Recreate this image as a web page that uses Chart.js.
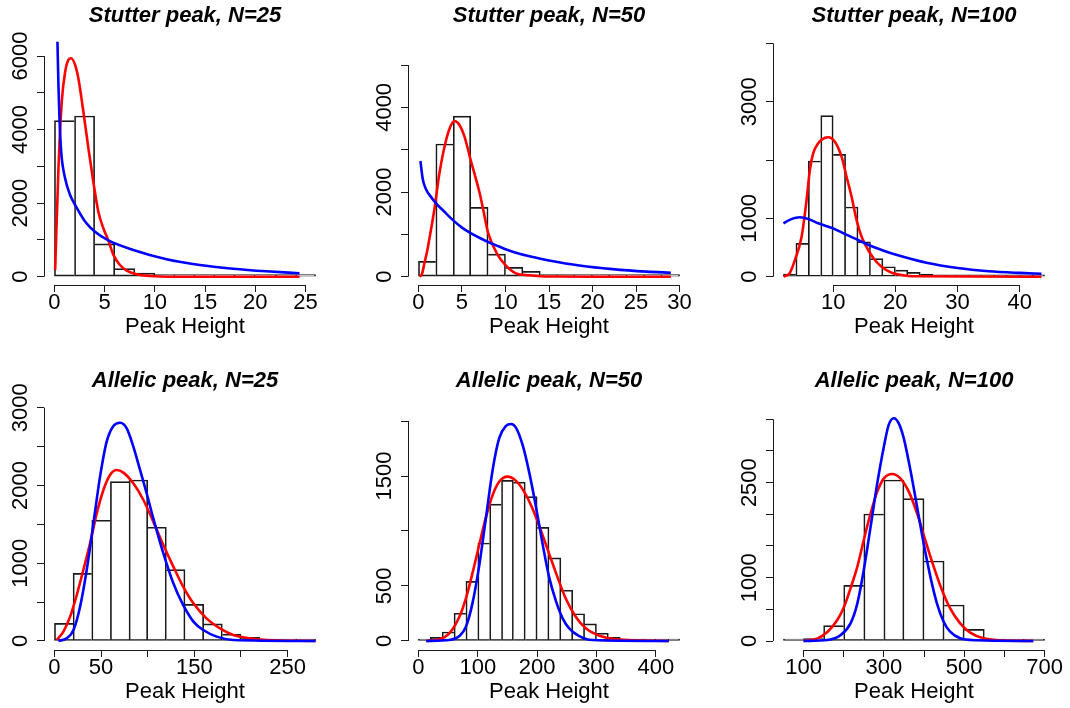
<!DOCTYPE html>
<html>
<head>
<meta charset="utf-8">
<script src="https://cdn.jsdelivr.net/npm/chart.js"></script>
<style>
  html, body { margin: 0; padding: 0; background: #fff; overflow: hidden; }
  #page { position: relative; width: 1070px; height: 708px; }
  canvas { position: absolute; }
</style>
</head>
<body>
<div id="page"></div>
<script>
// ---- Stutter peak, N=25 ----
const breaks1 = [0, 2, 4, 6, 8, 10, 12, 14, 16, 18, 20, 22, 24, 26];
const counts1 = [4243, 4370, 890, 218, 100, 54, 18, 8, 4, 2, 1, 1, 1];
const red1X = [0.07, 0.4, 0.73, 1.07, 1.39, 1.66, 2.06, 2.38, 2.88, 3.38, 3.87, 4.37, 4.87, 5.36, 5.86, 6.52, 7.19, 8.18, 9.5, 12, 24.4];
const red1Y = [182, 2947, 4758, 5574, 5892, 5938, 5756, 5394, 4486, 3491, 2583, 1767, 1316, 990, 600, 318, 163, 65, 20, 0, 0];
const blue1X = [0.3, 0.4, 0.5, 0.67, 1.06, 1.56, 2.06, 3.05, 4.04, 5.37, 7.85, 11.16, 14.47, 17.8, 21.1, 24.4];
const blue1Y = [6390, 5200, 4307, 3399, 2675, 2221, 1950, 1500, 1220, 985, 726, 473, 318, 218, 147, 92];
const xTicks1 = [0, 5, 10, 15, 20, 25];
const xLabels1 = [0, 5, 10, 15, 20, 25];
const yTicks1 = [0, 1000, 2000, 3000, 4000, 5000, 6000];
const yLabels1 = [0, 2000, 4000, 6000];

// ---- Stutter peak, N=50 ----
const breaks2 = [0, 2, 4, 6, 8, 10, 12, 14, 16, 18, 20, 22, 24, 26, 28, 30];
const counts2 = [362, 3134, 3795, 1638, 535, 220, 126, 47, 39, 24, 12, 5, 3, 2, 1];
const red2X = [0.11, 0.4, 0.7, 1.0, 1.26, 1.6, 1.84, 2.41, 3.18, 3.75, 4.14, 4.71, 5.29, 6, 7, 7.39, 8, 9.05, 10, 11.2, 12.7, 14, 16, 20, 29];
const red2Y = [0, 60, 330, 600, 900, 1300, 1600, 2442, 3229, 3584, 3678, 3584, 3307, 2757, 2000, 1638, 1040, 535, 276, 80, 33, 12, 4, 0, 0];
const blue2X = [0.23, 0.5, 0.88, 1.46, 2, 3, 4, 5, 6, 7, 8, 9, 10, 11, 13, 15, 18.5, 22.3, 26.2, 29];
const blue2Y = [2733, 2300, 2060, 1880, 1740, 1530, 1330, 1160, 1030, 920, 820, 735, 650, 580, 470, 385, 265, 178, 120, 95];
const xTicks2 = [0, 5, 10, 15, 20, 25, 30];
const xLabels2 = [0, 5, 10, 15, 20, 25, 30];
const yTicks2 = [0, 1000, 2000, 3000, 4000, 5000];
const yLabels2 = [0, 2000, 4000];

// ---- Stutter peak, N=100 ----
const breaks3 = [2, 4, 6, 8, 10, 12, 14, 16, 18, 20, 22, 24, 26, 28, 30, 32, 34, 36, 38, 40, 42, 44];
const counts3 = [46, 572, 1983, 2760, 2098, 1195, 600, 309, 171, 114, 74, 46, 23, 12, 8, 5, 3, 2, 1, 1, 1];
const red3X = [2, 3, 3.84, 4.92, 5.72, 6.25, 6.78, 7.59, 8.67, 9.2, 10.27, 11.35, 12.15, 12.96, 13.76, 14.57, 15.63, 16.7, 17.78, 19.4, 21, 23, 43.5];
const red3Y = [0, 60, 286, 686, 1315, 1829, 2115, 2287, 2383, 2390, 2315, 2057, 1714, 1372, 972, 686, 458, 286, 171, 69, 29, 8, 0];
const blue3X = [2, 3, 4, 4.65, 6, 7.59, 10, 12, 14, 16, 18, 20, 25, 30, 35, 40, 43.5];
const blue3Y = [914, 975, 1010, 1018, 990, 915, 829, 725, 629, 530, 450, 380, 240, 150, 95, 65, 50];
const xTicks3 = [10, 20, 30, 40];
const xLabels3 = [10, 20, 30, 40];
const yTicks3 = [0, 1000, 2000, 3000, 4000];
const yLabels3 = [0, 1000, 3000];

// ---- Allelic peak, N=25 ----
const breaks4 = [0, 20, 40, 60, 80, 100, 120, 140, 160, 180, 200, 220, 240, 260, 280];
const counts4 = [227, 870, 1552, 2049, 2070, 1462, 917, 471, 219, 86, 47, 21, 8, 3];
const red4X = [2.5, 9.6, 16.8, 23.9, 31, 38.2, 45.4, 52.5, 59.6, 66.8, 73.9, 84.6, 95.4, 106, 116.8, 127.5, 138, 149, 163, 177.5, 191.8, 209.6, 227.5, 280];
const red4Y = [13, 120, 313, 591, 913, 1256, 1642, 1942, 2135, 2199, 2165, 2027, 1813, 1534, 1234, 956, 699, 484, 291, 163, 77, 34, 13, 0];
const blue4X = [4.3, 13.2, 20.4, 27.5, 34.6, 41.8, 48.9, 56, 63.2, 70.4, 77.5, 84.6, 91.8, 98.9, 106, 116.8, 127.5, 138, 149, 159.6, 174, 191.8, 280];
const blue4Y = [0, 34, 141, 441, 913, 1513, 2113, 2563, 2765, 2807, 2735, 2499, 2199, 1899, 1577, 1127, 742, 463, 249, 141, 56, 13, 0];
const xTicks4 = [0, 50, 100, 150, 200, 250];
const xLabels4 = [0, 50, 150, 250];
const yTicks4 = [0, 500, 1000, 1500, 2000, 2500, 3000];
const yLabels4 = [0, 1000, 2000, 3000];

// ---- Allelic peak, N=50 ----
const breaks5 = [0, 20, 40, 60, 80, 100, 120, 140, 160, 180, 200, 220, 240, 260, 280, 300, 320, 340, 360, 380, 400, 420, 440];
const counts5 = [2, 33, 82, 252, 542, 891, 1245, 1461, 1445, 1312, 1033, 755, 461, 248, 155, 70, 33, 15, 5, 2, 1, 1];
const red5X = [13, 35, 52, 69, 80, 91, 103, 114, 125, 136, 150, 164, 178, 192, 206, 220, 234, 248, 265, 282, 305, 333, 422];
const red5Y = [0, 15, 70, 221, 388, 615, 888, 1130, 1327, 1448, 1494, 1458, 1358, 1206, 1009, 797, 585, 388, 221, 115, 48, 15, 0];
const blue5X = [13, 52, 69, 80, 91, 103, 114, 125, 136, 147.5, 156, 164, 175.5, 187, 198, 209, 220, 232, 243, 254, 271, 293, 422];
const blue5Y = [0, 9, 45, 130, 342, 706, 1130, 1555, 1842, 1955, 1973, 1942, 1782, 1524, 1221, 888, 585, 358, 206, 115, 45, 9, 0];
const xTicks5 = [0, 100, 200, 300, 400];
const xLabels5 = [0, 100, 200, 300, 400];
const yTicks5 = [0, 500, 1000, 1500, 2000];
const yLabels5 = [0, 500, 1500];

// ---- Allelic peak, N=100 ----
const breaks6 = [50, 100, 150, 200, 250, 300, 350, 400, 450, 500, 550, 600, 650, 700];
const counts6 = [2, 37, 242, 879, 2005, 2542, 2247, 1263, 568, 184, 26, 3, 1];
const red6X = [100, 135, 160, 184, 201, 217, 234, 250, 267, 283.5, 300, 320.7, 341, 362, 382.6, 403, 424, 444.6, 465, 490, 515, 548, 589, 672];
const red6Y = [0, 42, 147, 332, 542, 832, 1174, 1595, 2016, 2358, 2568, 2637, 2568, 2358, 2016, 1595, 1174, 805, 516, 279, 132, 42, 11, 0];
const blue6X = [100, 160, 192.6, 217, 234, 250, 267, 283.5, 300, 312, 324.8, 337, 349.6, 366, 382.6, 399, 415.7, 432, 448.8, 465, 490, 531, 672];
const blue6Y = [0, 16, 95, 279, 595, 1121, 1805, 2489, 3068, 3411, 3516, 3437, 3200, 2700, 2121, 1542, 1016, 595, 305, 147, 42, 11, 0];
const xTicks6 = [100, 200, 300, 400, 500, 600, 700];
const xLabels6 = [100, 300, 500, 700];
const yTicks6 = [0, 500, 1000, 1500, 2000, 2500, 3000, 3500];
const yLabels6 = [0, 1000, 2500];

const titles = ['Stutter peak, N=25', 'Stutter peak, N=50', 'Stutter peak, N=100',
                'Allelic peak, N=25', 'Allelic peak, N=50', 'Allelic peak, N=100'];
const xAxisTitle = 'Peak Height';

// panel setup (axis limits follow R's 4% extension)
const panels = [
  { breaks: breaks1, counts: counts1, redX: red1X, redY: red1Y, blueX: blue1X, blueY: blue1Y,
    xTicks: xTicks1, xLabels: xLabels1, yTicks: yTicks1, yLabels: yLabels1, xr: [-1.04, 27.04], yr: [-226, 6544] },
  { breaks: breaks2, counts: counts2, redX: red2X, redY: red2Y, blueX: blue2X, blueY: blue2Y,
    xTicks: xTicks2, xLabels: xLabels2, yTicks: yTicks2, yLabels: yLabels2, xr: [-1.2, 31.2], yr: [-196, 5686] },
  { breaks: breaks3, counts: counts3, redX: red3X, redY: red3Y, blueX: blue3X, blueY: blue3Y,
    xTicks: xTicks3, xLabels: xLabels3, yTicks: yTicks3, yLabels: yLabels3, xr: [0.32, 45.68], yr: [-142, 4126] },
  { breaks: breaks4, counts: counts4, redX: red4X, redY: red4Y, blueX: blue4X, blueY: blue4Y,
    xTicks: xTicks4, xLabels: xLabels4, yTicks: yTicks4, yLabels: yLabels4, xr: [-11.2, 291.2], yr: [-116, 3086] },
  { breaks: breaks5, counts: counts5, redX: red5X, redY: red5Y, blueX: blue5X, blueY: blue5Y,
    xTicks: xTicks5, xLabels: xLabels5, yTicks: yTicks5, yLabels: yLabels5, xr: [-17.6, 457.6], yr: [-82, 2182] },
  { breaks: breaks6, counts: counts6, redX: red6X, redY: red6Y, blueX: blue6X, blueY: blue6Y,
    xTicks: xTicks6, xLabels: xLabels6, yTicks: yTicks6, yLabels: yLabels6, xr: [24, 726], yr: [-142, 3789] }
];

const colLeft = [0, 364, 729];
const rowTop = [0, 365];
const rowHeight = [354, 343];
const rowPadBottom = [11, 0];
const canvasWidth = 340;

const FONT = "'Liberation Sans', Arial, Helvetica, sans-serif";
const INK = '#1a1a1a';
Chart.defaults.font.family = FONT;
Chart.defaults.color = '#000';

const toPoints = (xs, ys) => xs.map((x, i) => ({ x: x, y: ys[i] }));

// R style axes: line only from first to last tick, rotated y labels
function rAxes(p) {
  return {
    id: 'rAxes',
    afterDraw(chart) {
      const { ctx, chartArea, scales } = chart;
      const xs = scales.x, ys = scales.y;
      ctx.save();
      ctx.strokeStyle = INK;
      ctx.lineWidth = 1;
      ctx.beginPath();
      const by = Math.round(chartArea.bottom) + 0.5;
      ctx.moveTo(xs.getPixelForValue(p.xTicks[0]), by);
      ctx.lineTo(xs.getPixelForValue(p.xTicks[p.xTicks.length - 1]), by);
      const lx = Math.round(chartArea.left) + 0.5;
      ctx.moveTo(lx, ys.getPixelForValue(p.yTicks[0]));
      ctx.lineTo(lx, ys.getPixelForValue(p.yTicks[p.yTicks.length - 1]));
      ctx.stroke();

      ctx.fillStyle = '#000';
      ctx.font = '22px ' + FONT;
      ctx.textAlign = 'center';
      ctx.textBaseline = 'middle';
      p.yLabels.forEach(v => {
        ctx.save();
        ctx.translate(chartArea.left - 23, ys.getPixelForValue(v));
        ctx.rotate(-Math.PI / 2);
        ctx.fillText(String(v), 0, 0);
        ctx.restore();
      });
      ctx.restore();
    }
  };
}

const page = document.getElementById('page');

panels.forEach((p, i) => {
  const col = i % 3, row = Math.floor(i / 3);
  const canvas = document.createElement('canvas');
  canvas.width = canvasWidth;
  canvas.height = rowHeight[row];
  canvas.style.left = colLeft[col] + 'px';
  canvas.style.top = rowTop[row] + 'px';
  canvas.style.width = canvasWidth + 'px';
  canvas.style.height = rowHeight[row] + 'px';
  page.appendChild(canvas);

  const c = p.counts;
  const last = c.length - 1;
  const bars = c.map((v, k) => ({ x: (p.breaks[k] + p.breaks[k + 1]) / 2, y: v }));
  // a shared edge is drawn once, by the taller of the two neighbouring bars
  const barBorder = ctx => {
    const k = ctx.dataIndex;
    return {
      top: 1, bottom: 1,
      left: (k === 0 || c[k] >= c[k - 1]) ? 1 : 0,
      right: (k === last || c[k] > c[k + 1]) ? 1 : 0
    };
  };

  new Chart(canvas, {
    type: 'bar',
    data: {
      datasets: [
        {
          type: 'line', data: toPoints(p.blueX, p.blueY), borderColor: '#0000ff', borderWidth: 2.6,
          pointRadius: 0, fill: false, cubicInterpolationMode: 'monotone', order: 1
        },
        {
          type: 'line', data: toPoints(p.redX, p.redY), borderColor: '#ff0000', borderWidth: 2.6,
          pointRadius: 0, fill: false, cubicInterpolationMode: 'monotone', order: 2
        },
        {
          type: 'bar', data: bars, backgroundColor: 'rgba(255,255,255,0)', borderColor: INK,
          borderWidth: barBorder, borderSkipped: false, barPercentage: 1, categoryPercentage: 1,
          minBarLength: 2, order: 3
        }
      ]
    },
    options: {
      responsive: false,
      animation: false,
      devicePixelRatio: 1,
      layout: { padding: { left: 0, right: 14, top: 0, bottom: rowPadBottom[row] } },
      plugins: {
        legend: { display: false },
        tooltip: { enabled: false },
        title: {
          display: true, text: titles[i], fullSize: false, color: '#000',
          font: { size: 22, weight: 'bold', style: 'italic' },
          padding: { top: 3, bottom: 6.6 }
        }
      },
      scales: {
        x: {
          type: 'linear', bounds: 'data', min: p.xr[0], max: p.xr[1], offset: false,
          afterBuildTicks: s => { s.ticks = p.xTicks.map(v => ({ value: v })); },
          afterFit: s => { s.height = 58; },
          border: { display: false },
          grid: { offset: false, drawOnChartArea: false, drawTicks: true, tickLength: 7, color: INK },
          ticks: {
            autoSkip: false, maxRotation: 0, minRotation: 0, padding: -2, color: '#000',
            font: { size: 22 },
            callback: v => p.xLabels.includes(v) ? String(v) : ''
          },
          title: { display: true, text: xAxisTitle, color: '#000', font: { size: 22 }, padding: { top: 0, bottom: 3 } }
        },
        y: {
          type: 'linear', bounds: 'data', min: p.yr[0], max: p.yr[1],
          afterBuildTicks: s => { s.ticks = p.yTicks.map(v => ({ value: v })); },
          afterFit: s => { s.width = 44; },
          border: { display: false },
          grid: { drawOnChartArea: false, drawTicks: true, tickLength: 7, color: INK },
          ticks: { display: false }
        }
      }
    },
    plugins: [rAxes(p)]
  });
});
</script>
</body>
</html>
